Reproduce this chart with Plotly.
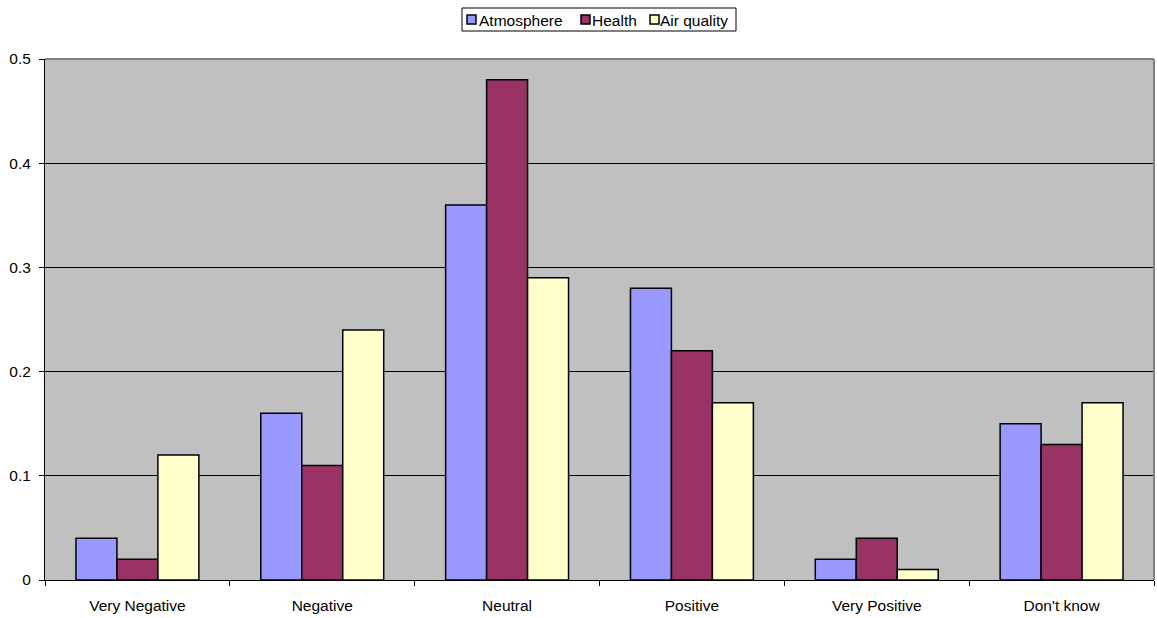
import plotly.graph_objects as go

categories = ["Very Negative", "Negative", "Neutral", "Positive", "Very Positive", "Don't know"]
atmosphere = [0.04, 0.16, 0.36, 0.28, 0.02, 0.15]
health = [0.02, 0.11, 0.48, 0.22, 0.04, 0.13]
air_quality = [0.12, 0.24, 0.29, 0.17, 0.01, 0.17]

series = [
    ("Atmosphere", atmosphere, "#9999FF"),
    ("Health", health, "#993366"),
    ("Air quality", air_quality, "#FFFFCC"),
]

W, H = 1157, 618
ML, MR, MT, MB = 45, 3, 59, 38
PW, PH = W - ML - MR, H - MT - MB
FONT = "Liberation Sans, Arial, sans-serif"
FS = 15.5


def px_x(px):
    return (px - ML) / PW


def px_y(py):
    return (H - MB - py) / PH


fig = go.Figure()
for name, vals, color in series:
    fig.add_trace(go.Bar(
        x=categories, y=vals, name=name, showlegend=False,
        marker=dict(color=color, line=dict(color="black", width=1.5)),
    ))

# Compact boxed legend above the plot area
shapes = [
    dict(type="rect", xref="paper", yref="paper",
         x0=px_x(462), x1=px_x(736), y0=px_y(31), y1=px_y(8),
         line=dict(color="black", width=1), fillcolor="white"),
]
annotations = []
legend_pos = [(467, 477), (581, 590), (650, 658)]
for (name, _, color), (sq, tx) in zip(series, legend_pos):
    shapes.append(dict(type="rect", xref="paper", yref="paper",
                       x0=px_x(sq), x1=px_x(sq + 9), y0=px_y(24), y1=px_y(15),
                       line=dict(color="black", width=1.5), fillcolor=color))
    annotations.append(dict(text=name, xref="paper", yref="paper",
                            x=px_x(tx), y=px_y(20.5), xanchor="left", yanchor="middle",
                            showarrow=False, font=dict(family=FONT, size=FS, color="black")))

# Grey frame on the top and right edges of the plot area
shapes += [
    dict(type="line", xref="paper", yref="paper", x0=0, x1=1, y0=1, y1=1,
         line=dict(color="#808080", width=2), layer="above"),
    dict(type="line", xref="paper", yref="paper", x0=1, x1=1, y0=0, y1=1,
         line=dict(color="#808080", width=2), layer="above"),
]

fig.update_layout(
    width=W, height=H,
    margin=dict(l=ML, r=MR, t=MT, b=MB),
    paper_bgcolor="white",
    plot_bgcolor="#C0C0C0",
    barmode="group",
    bargap=0.335,
    bargroupgap=0,
    font=dict(family=FONT, size=FS, color="black"),
    showlegend=False,
    xaxis=dict(
        type="category", tickson="boundaries", ticks="outside", ticklen=5,
        tickcolor="black", showline=True, linecolor="black", linewidth=1,
        showgrid=False, tickfont=dict(size=FS), ticklabelstandoff=11,
    ),
    yaxis=dict(
        range=[0, 0.5], dtick=0.1, ticks="outside", ticklen=5, tickcolor="black",
        showline=True, linecolor="black", linewidth=1,
        showgrid=True, gridcolor="black", gridwidth=1, zeroline=False,
        tickfont=dict(size=FS), ticklabelstandoff=5,
    ),
    shapes=shapes,
    annotations=annotations,
)

fig.write_html("out.html")
